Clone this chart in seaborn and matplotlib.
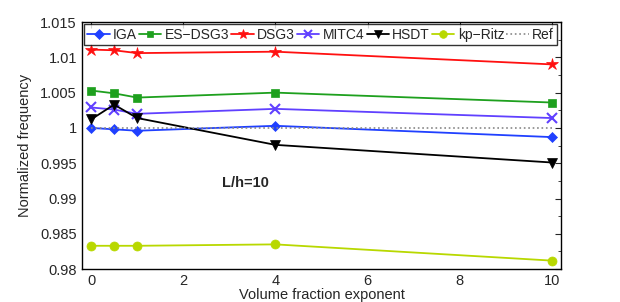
import numpy as np
import pandas as pd
import seaborn as sns
import matplotlib.pyplot as plt
from matplotlib.ticker import MultipleLocator

sns.set_style("white")
plt.rcParams['font.family'] = ['Liberation Sans', 'DejaVu Sans']

n = [0, 0.5, 1, 4, 10]
iga = [1.0000, 0.9998, 0.9996, 1.0003, 0.9987]
es_dsg3 = [1.0053, 1.0049, 1.0043, 1.0050, 1.0036]
dsg3 = [1.0111, 1.0110, 1.0106, 1.0108, 1.0090]
mitc4 = [1.0029, 1.0026, 1.0020, 1.0027, 1.0014]
hsdt = [1.0012, 1.0033, 1.0014, 0.9976, 0.9951]
kp_ritz = [0.9833, 0.9833, 0.9833, 0.9835, 0.9812]
ref_x = [0, 10]
ref = [1.0, 1.0]

series = [
    ('IGA', iga, '#2040ff', 'D', 5.5),
    ('ES\u2212DSG3', es_dsg3, '#1ea01e', 's', 5.5),
    ('DSG3', dsg3, '#ff1010', '*', 9),
    ('MITC4', mitc4, '#6040ff', 'x', 6.5),
    ('HSDT', hsdt, '#000000', 'v', 7.5),
    ('kp\u2212Ritz', kp_ritz, '#b8d800', 'o', 6.5),
]

fig = plt.figure(figsize=(6.2, 3.02), dpi=100)
ax = fig.add_axes([0.132, 0.109, 0.773, 0.818])

for name, vals, col, mk, ms in series:
    sns.lineplot(x=n, y=vals, ax=ax, color=col, marker=mk, markersize=ms,
                 markeredgecolor=col, markerfacecolor=col, markeredgewidth=1.5 if mk == 'x' else 0.5,
                 linewidth=1.3, label=name)
sns.lineplot(x=ref_x, y=ref, ax=ax, color='#888888', linestyle=':', linewidth=1.2, label='Ref')

ax.set_xlim(-0.2, 10.2)
ax.set_ylim(0.98, 1.015)
ax.set_xticks([0, 2, 4, 6, 8, 10])
ax.set_yticks([0.98, 0.985, 0.99, 0.995, 1, 1.005, 1.01, 1.015])
ax.set_yticklabels(['0.98', '0.985', '0.99', '0.995', '1', '1.005', '1.01', '1.015'])
ax.yaxis.set_minor_locator(MultipleLocator(0.0025))
ax.tick_params(which='both', direction='in', top=True, right=True, labelsize=10.5)
ax.tick_params(which='major', length=4)
ax.tick_params(which='minor', length=2)
for s in ax.spines.values():
    s.set_linewidth(1.0)
    s.set_color('black')

ax.set_xlabel('Volume fraction exponent', fontsize=10.5, labelpad=0)
ax.set_ylabel('Normalized frequency', fontsize=10.5, labelpad=6)
ax.text(2.85, 0.9922, 'L/h=10', fontsize=10.5, fontweight='bold', va='center')

ax.legend(loc='upper left', bbox_to_anchor=(0.0, 1.0), ncol=7, fontsize=10,
          frameon=True, fancybox=False, edgecolor='black', handlelength=1.6,
          handletextpad=0.25, columnspacing=0.15, borderpad=0.25, borderaxespad=0.15,
          markerscale=0.85)

plt.savefig('out.png')
